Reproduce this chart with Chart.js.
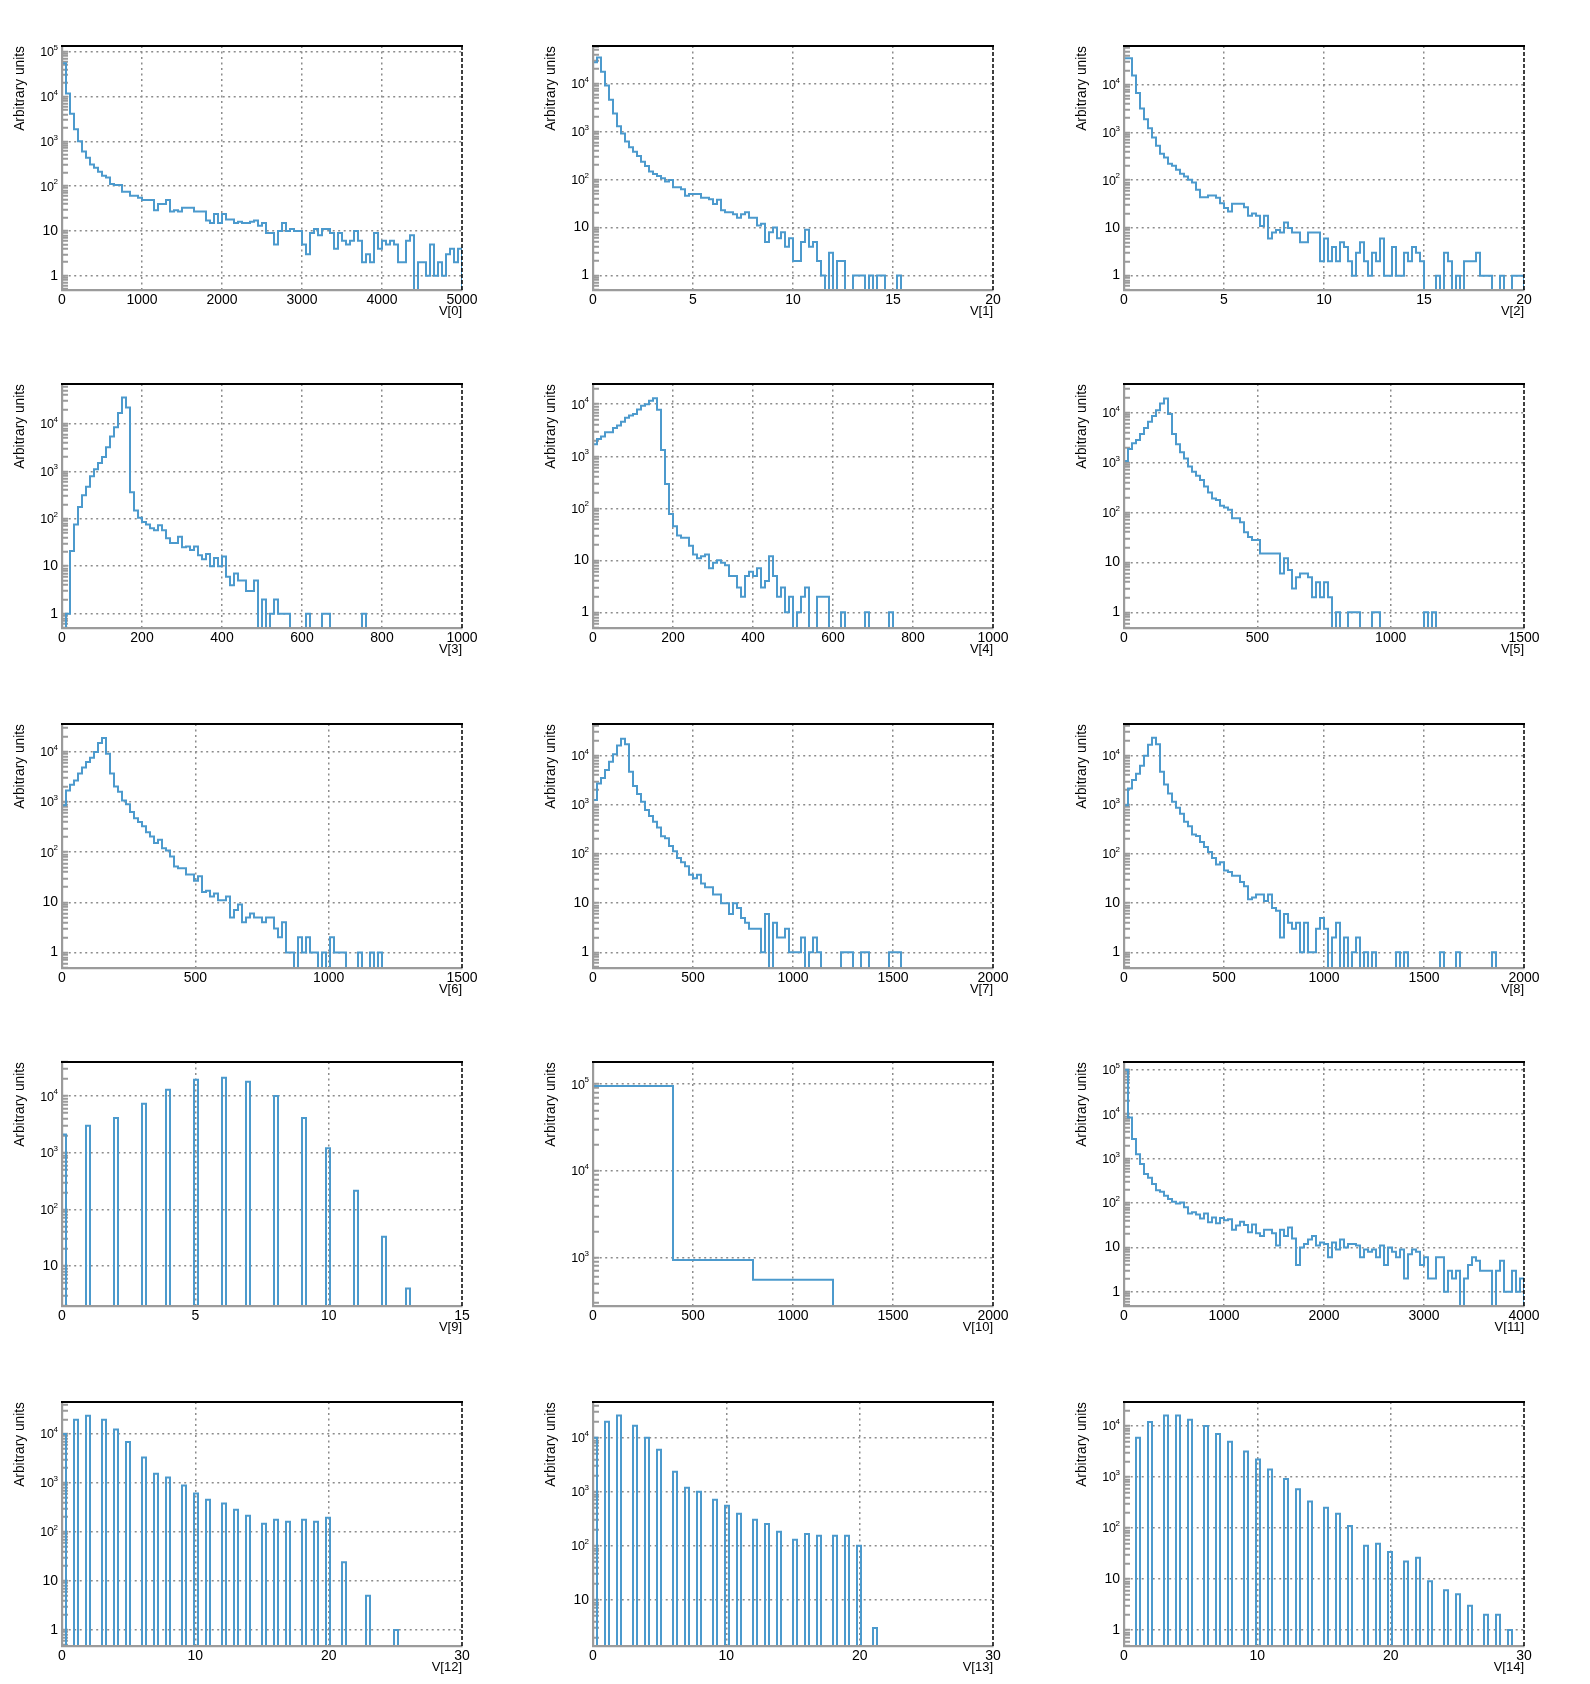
<!DOCTYPE html>
<html>
<head>
<meta charset="utf-8">
<script src="https://cdn.jsdelivr.net/npm/chart.js@4.4.1/dist/chart.umd.min.js"></script>
<style>
html,body{margin:0;padding:0;background:#ffffff;}
body{width:1590px;height:1684px;position:relative;overflow:hidden;}
canvas{position:absolute;}
</style>
</head>
<body>
<script>
// ---------------- data ----------------
const titles = ['V[0]','V[1]','V[2]','V[3]','V[4]','V[5]','V[6]','V[7]','V[8]','V[9]','V[10]','V[11]','V[12]','V[13]','V[14]'];
const xMin  = [0,0,0,0,0,0,0,0,0,0,0,0,0,0,0];
const xMax  = [5000,20,20,1000,1000,1500,1500,2000,2000,15,2000,4000,30,30,30];
const nBins = [100,100,100,100,100,100,100,100,100,100,5,100,100,100,100];
const xTickStep = [1000,5,5,200,200,500,500,500,500,5,500,1000,10,10,10];
const yMin  = [0.48,0.5,0.5,0.5,0.5,0.485,0.49,0.48,0.48,1.97,278,0.48,0.47,1.4,0.485];
const yMax  = [1.34e5,6.1e4,6.5e4,6.9e4,2.45e4,3.7e4,3.6e4,4.4e4,4.4e4,4.0e4,1.8e5,1.5e5,4.5e4,4.6e4,2.96e4];

const V0 = [55000,11700,4100,1850,1000,590,430,305,257,210,
  170,155,111,106,106,75,75,61,61,55,
  49,49,49,29,40,40,49,27,29,27,
  33,33,33,27,27,27,17,15,24,15,
  24,18,18,15,16,15,15,16,17,13,
  15,9,9,5,10,15,10,11,10,10,
  5,3,9,11,8,11,11,9,4,9,
  6,5,6,10,6,2,3,2,9,4,
  6,5,6,5,2,2,6,8,0,2,
  2,1,5,1,2,1,3,4,2,4];
const V1 = [28000,35000,17800,9200,4600,2400,1300,920,620,470,
  380,310,237,193,147,131,119,107,91,98,
  69,69,63,46,50,50,50,42,42,39,
  31,38,23,21,21,19,16,19,21,16,
  16,11,12,5,8,10,6,8,4,6,
  2,2,5,9,4,5,2,1,0,3,
  0,2,2,0,0,1,1,1,0,1,
  0,1,1,0,0,0,1,0,0,0,
  0,0,0,0,0,0,0,0,0,0,
  0,0,0,0,0,0,0,0,0,0];
const V2 = [36000,36000,15700,6700,3200,1900,1230,785,525,357,
  300,220,200,165,136,120,102,90,63,44,
  44,48,48,43,33,26,22,32,32,32,
  27,18,20,18,11,18,6,8,9,8,
  13,10,8,8,5,5,8,8,8,2,
  6,2,4,2,5,4,2,1,3,5,
  2,1,3,2,6,1,1,4,1,1,
  3,2,4,3,2,0,0,0,1,0,
  3,2,0,1,0,2,2,2,3,1,
  1,1,0,0,1,0,0,1,1,1];
const V3 = [0,1,21,76,178,313,470,785,1100,1500,
  2000,3200,5400,8500,17000,36000,22000,363,150,105,
  85,76,63,57,73,57,39,31,31,42,
  25,26,22,26,17,14,18,10,15,10,
  16,6,4,7,5,5,3,3,5,0,
  2,0,1,2,1,1,1,0,0,0,
  0,1,0,0,0,1,1,0,0,0,
  0,0,0,0,0,1,0,0,0,0,
  0,0,0,0,0,0,0,0,0,0,
  0,0,0,0,0,0,0,0,0,0];
const V4 = [1700,2150,2400,2900,2900,3500,3900,4600,5500,6100,
  6500,7900,9400,10000,11700,13000,7800,1320,294,78,
  45,30,27,27,19,13,11,12,13,7,
  9,10,9,8,5,5,3,2,5,6,
  5,7,3,4,12,5,2,3,1,2,
  0,1,2,3,0,0,2,2,2,0,
  0,0,1,0,0,0,0,0,1,0,
  0,0,0,0,1,0,0,0,0,0,
  0,0,0,0,0,0,0,0,0,0,
  0,0,0,0,0,0,0,0,0,0];
const V5 = [1070,1860,2400,2800,3700,4900,6500,8500,11000,15000,
  19000,9300,3700,2300,1600,1200,830,650,540,443,
  330,250,190,177,135,125,113,76,76,63,
  40,32,28,28,15,15,15,15,15,6,
  12,7,3,5,6,6,5,2,4,2,
  4,2,0,1,0,0,1,1,1,0,
  0,0,1,1,0,0,0,0,0,0,
  0,0,0,0,0,1,0,1,0,0,
  0,0,0,0,0,0,0,0,0,0,
  0,0,0,0,0,0,0,0,0,0];
const V6 = [860,1700,2200,2700,3700,4900,6300,7600,10000,15000,
  19000,9200,3700,2050,1600,1070,900,630,475,400,
  330,250,205,153,177,120,108,82,52,48,
  48,36,36,27,33,16,17,13,15,11,
  11,13,5,7,9,4,5,6,5,5,
  4,5,5,3,2,4,1,1,0,2,
  1,2,1,1,0,1,0,2,1,1,
  1,0,0,0,1,0,0,1,0,1,
  0,0,0,0,0,0,0,0,0,0,
  0,0,0,0,0,0,0,0,0,0];
const V7 = [1250,2700,3500,5100,7500,10700,16000,22000,17000,4700,
  2400,1660,1150,780,590,450,345,230,210,145,
  113,83,68,56,38,32,38,25,21,21,
  15,15,10,10,6,10,8,5,4,3,
  3,3,1,6,0,4,2,2,3,1,
  1,1,2,0,1,2,1,0,0,0,
  0,0,1,1,1,0,0,1,1,0,
  0,0,0,0,1,1,1,0,0,0,
  0,0,0,0,0,0,0,0,0,0,
  0,0,0,0,0,0,0,0,0,0];
const V8 = [980,2150,3200,4300,6200,10000,16600,23000,17000,4700,
  2600,1700,1150,870,660,450,365,250,233,176,
  138,110,83,61,68,46,43,36,36,27,
  22,12,13,15,15,11,15,8,7,2,
  6,4,3,4,1,4,1,1,3,5,
  3,0,2,4,0,2,0,1,2,0,
  1,0,1,0,0,0,0,0,1,0,
  1,0,0,0,0,0,0,0,0,1,
  0,0,0,1,0,0,0,0,0,0,
  0,0,1,0,0,0,0,0,0,0];
// V[9]: integer-valued variable, fine bins (only integer bins filled)
const V9_values = [0,1,2,3,4,5,6,7,8,9,10,11,12,13];
const V9_counts = [2100,3000,4100,7300,13000,19500,21000,18000,10000,4100,1200,214,33,4];
const V10 = [95000,940,557,0,0];
const V11 = [100000,8400,2750,1260,760,450,370,267,195,180,
  146,123,107,98,103,80,58,62,55,45,
  58,37,47,35,46,41,43,25,31,38,
  32,22,33,21,18,25,25,21,11,25,
  18,28,16,4,10,12,15,18,11,13,
  12,6,13,9,15,10,12,12,11,6,
  9,8,9,6,11,4,10,8,6,9,
  2,7,9,8,4,6,2,2,6,6,
  1,3,2,3,0,2,4,6,5,3,
  3,3,0,3,5,1,1,3,1,2];
const V12_values = [0,1,2,3,4,5,6,7,8,9,10,11,12,13,14,15,16,17,18,19,20,21,23,25];
const V12_counts = [10000,19500,23500,19500,12300,6900,3300,1550,1300,890,610,455,380,285,215,148,178,162,178,162,195,24,5,1];
const V13_values = [0,1,2,3,4,5,6,7,8,9,10,11,12,13,14,15,16,17,18,19,20,21];
const V13_counts = [10000,19800,26000,16700,10000,6000,2350,1190,1000,710,550,392,303,255,182,130,166,153,153,153,100,3];
const V14_values = [1,2,3,4,5,6,7,8,9,10,11,12,13,14,15,16,17,18,19,20,21,22,23,24,25,26,27,28,29];
const V14_counts = [5900,12000,16000,16000,13300,10000,7000,4900,3160,2200,1400,910,575,330,250,190,110,45,49,34,22,26,9,6,5,3,2,2,1];

// ---------------- helpers ----------------
function fillBins(values, counts, lo, hi, n) {
  const arr = new Array(n).fill(0);
  const w = (hi - lo) / n;
  values.forEach((v, j) => {
    const b = Math.floor((v - lo) / w + 1e-9);
    if (b >= 0 && b < n) arr[b] += counts[j];
  });
  return arr;
}
const binCounts = [
  V0, V1, V2, V3, V4, V5, V6, V7, V8,
  fillBins(V9_values, V9_counts, xMin[9], xMax[9], nBins[9]),
  V10, V11,
  fillBins(V12_values, V12_counts, xMin[12], xMax[12], nBins[12]),
  fillBins(V13_values, V13_counts, xMin[13], xMax[13], nBins[13]),
  fillBins(V14_values, V14_counts, xMin[14], xMax[14], nBins[14])
];

function histPoints(counts, lo, hi, ymin) {
  const n = counts.length, w = (hi - lo) / n, tiny = ymin / 1000;
  const pts = [{x: lo, y: tiny}];
  for (let i = 0; i < n; i++) {
    const y = counts[i] > 0 ? counts[i] : tiny;
    pts.push({x: lo + i * w, y: y});
    pts.push({x: lo + (i + 1) * w, y: y});
  }
  pts.push({x: hi, y: tiny});
  return pts;
}
function logTicks(mn, mx) {
  const out = [];
  for (let e = Math.floor(Math.log10(mn)) - 1; e <= Math.ceil(Math.log10(mx)); e++) {
    for (let m = 1; m <= 9; m++) {
      const v = Number((m * Math.pow(10, e)).toPrecision(12));
      if (v >= mn && v <= mx) out.push({value: v, major: m === 1});
    }
  }
  return out;
}
function isDecade(v) {
  const l = Math.log10(v);
  return Math.abs(l - Math.round(l)) < 1e-9;
}

// ---------------- style ----------------
const FONT = '"Liberation Sans", Arial, Helvetica, sans-serif';
const LINE = '#4c9acd';
const GRID = '#8c8c8c';
const AXIS = '#9b9b9b';
const CLEAR = 'rgba(0,0,0,0)';
const plotLeft = [62, 593, 1124];
const plotTop = [46, 384, 724, 1062, 1402];
const CW = 480, CH = 320, PAD_TOP = 20, Y_W = 62, X_H = 56;

const decor = {
  id: 'decor',
  afterDraw(chart) {
    const ctx = chart.ctx, a = chart.chartArea, ys = chart.scales.y;
    ctx.save();
    // top border
    ctx.strokeStyle = '#000';
    ctx.lineWidth = 2;
    ctx.setLineDash([]);
    ctx.beginPath();
    ctx.moveTo(a.left - 1, a.top);
    ctx.lineTo(a.right + 1, a.top);
    ctx.stroke();
    // right dashed border
    ctx.lineWidth = 1.5;
    ctx.setLineDash([4, 2]);
    ctx.beginPath();
    ctx.moveTo(a.right, a.top);
    ctx.lineTo(a.right, a.bottom);
    ctx.stroke();
    ctx.setLineDash([]);
    // y labels (ROOT style 10^n)
    ctx.fillStyle = '#000';
    ctx.textBaseline = 'middle';
    ctx.textAlign = 'right';
    const xr = a.left - 4;
    const e0 = Math.ceil(Math.log10(ys.min) - 1e-9), e1 = Math.floor(Math.log10(ys.max) + 1e-9);
    for (let e = e0; e <= e1; e++) {
      const py = ys.getPixelForValue(Math.pow(10, e));
      if (e === 0) {
        ctx.font = '14px ' + FONT;
        ctx.fillText('1', xr, py);
      } else if (e === 1) {
        ctx.font = '14px ' + FONT;
        ctx.fillText('10', xr, py);
      } else {
        ctx.font = '8px ' + FONT;
        const s = String(e);
        const ew = ctx.measureText(s).width;
        ctx.fillText(s, xr, py - 4);
        ctx.font = '12.5px ' + FONT;
        ctx.fillText('10', xr - ew + 0.5, py + 1);
      }
    }
    ctx.restore();
  }
};

// ---------------- charts ----------------
for (let i = 0; i < 15; i++) {
  const r = Math.floor(i / 3), c = i % 3;
  const cv = document.createElement('canvas');
  cv.width = CW; cv.height = CH;
  cv.style.width = CW + 'px'; cv.style.height = CH + 'px';
  cv.style.left = (plotLeft[c] - Y_W) + 'px';
  cv.style.top = (plotTop[r] - PAD_TOP) + 'px';
  document.body.appendChild(cv);

  const lo = xMin[i], hi = xMax[i];
  const xt = [];
  for (let v = lo; v <= hi + 1e-9; v += xTickStep[i]) xt.push({value: v});
  const yt = logTicks(yMin[i], yMax[i]);

  new Chart(cv, {
    type: 'line',
    data: {
      datasets: [{
        data: histPoints(binCounts[i], lo, hi, yMin[i]),
        borderColor: LINE,
        borderWidth: 2,
        pointRadius: 0,
        fill: false,
        tension: 0,
        borderJoinStyle: 'miter',
        borderCapStyle: 'butt'
      }]
    },
    options: {
      responsive: false,
      animation: false,
      events: [],
      layout: {padding: {top: PAD_TOP, right: CW - Y_W - 400, left: 0, bottom: 0}},
      plugins: {legend: {display: false}, tooltip: {enabled: false}},
      scales: {
        x: {
          type: 'linear',
          position: 'bottom',
          min: lo, max: hi,
          afterBuildTicks: (s) => { s.ticks = xt.map(t => ({value: t.value})); },
          afterFit: (s) => { s.height = X_H; },
          ticks: {
            font: {family: FONT, size: 14},
            color: '#000',
            padding: 2,
            maxRotation: 0,
            autoSkip: false,
            callback: (v) => String(v)
          },
          grid: {
            color: (ctx) => (ctx.tick && ctx.tick.value > lo && ctx.tick.value < hi) ? GRID : CLEAR,
            lineWidth: 1.5,
            drawTicks: false
          },
          border: {display: true, color: AXIS, width: 2.2, dash: [2, 3.5], z: 1},
          title: {
            display: true, text: titles[i], align: 'end', color: '#000',
            font: {family: FONT, size: 13},
            padding: {top: 0, bottom: 27}
          }
        },
        y: {
          type: 'logarithmic',
          position: 'left',
          min: yMin[i], max: yMax[i],
          afterBuildTicks: (s) => { s.ticks = yt.map(t => ({value: t.value, major: t.major})); },
          afterFit: (s) => { s.width = Y_W; },
          ticks: {display: false},
          grid: {
            color: (ctx) => (ctx.tick && isDecade(ctx.tick.value)) ? GRID : CLEAR,
            lineWidth: 1.5,
            drawTicks: true,
            tickLength: -6,
            tickWidth: 2,
            tickColor: AXIS
          },
          border: {display: true, color: AXIS, width: 2.2, dash: [2, 3.5], z: 1},
          title: {
            display: true, text: 'Arbitrary units', align: 'end', color: '#000',
            font: {family: FONT, size: 13.75},
            padding: {top: 12, bottom: 0}
          }
        }
      }
    },
    plugins: [decor]
  });
}
</script>
</body>
</html>
